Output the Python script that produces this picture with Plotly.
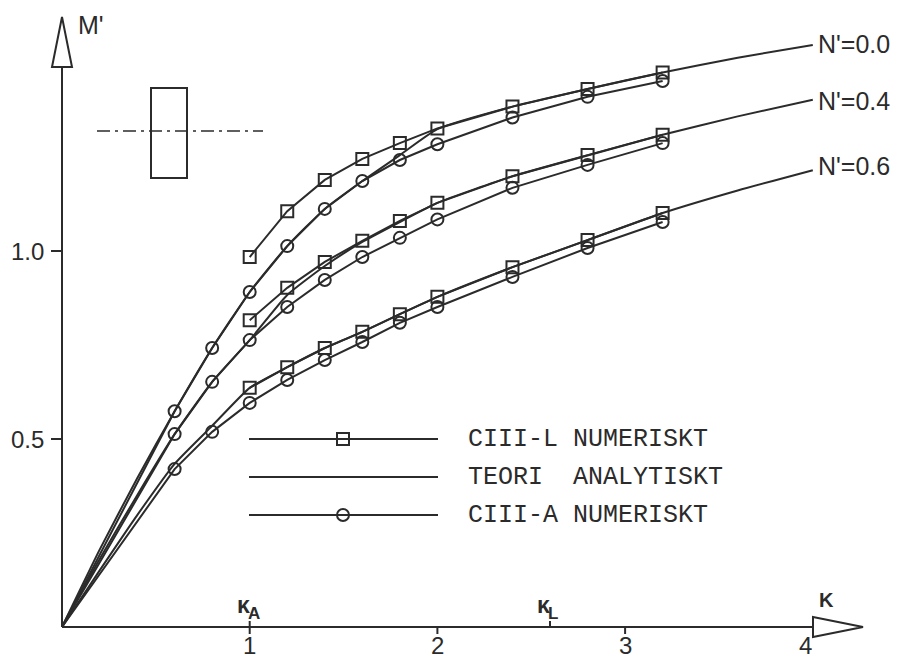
import plotly.graph_objects as go

# ---------------- data ----------------
N_labels = ["N'=0.0", "N'=0.4", "N'=0.6"]

# CIII-L numeriskt (squares)
x_L = [1.0, 1.2, 1.4, 1.6, 1.8, 2.0, 2.4, 2.8, 3.2]
L_00 = [0.984, 1.106, 1.189, 1.245, 1.287, 1.326, 1.384, 1.431, 1.475]
L_04 = [0.816, 0.902, 0.971, 1.027, 1.080, 1.128, 1.199, 1.255, 1.309]
L_06 = [0.636, 0.691, 0.742, 0.785, 0.832, 0.878, 0.957, 1.029, 1.101]

# CIII-A numeriskt (circles)
x_A = [0.0, 0.6, 0.8, 1.0, 1.2, 1.4, 1.6, 1.8, 2.0, 2.4, 2.8, 3.2]
A_00 = [0.0, 0.574, 0.742, 0.891, 1.013, 1.112, 1.186, 1.242, 1.284, 1.355, 1.410, 1.452]
A_04 = [0.0, 0.513, 0.652, 0.763, 0.851, 0.923, 0.984, 1.035, 1.084, 1.168, 1.229, 1.287]
A_06 = [0.0, 0.420, 0.519, 0.596, 0.657, 0.710, 0.758, 0.809, 0.851, 0.931, 1.008, 1.077]

# Teori analytiskt (plain lines)
x_T = [0.0, 0.2, 0.4, 0.6, 0.8, 1.0, 1.2, 1.4, 1.6, 1.8, 2.0, 2.4, 2.8, 3.2, 3.6, 4.0]
T_00 = [0.0, 0.205, 0.395, 0.574, 0.742, 0.891, 1.013, 1.112, 1.186, 1.255, 1.324, 1.384, 1.431, 1.475, 1.514, 1.548]
T_04 = [0.0, 0.180, 0.350, 0.513, 0.652, 0.763, 0.883, 0.960, 1.024, 1.077, 1.128, 1.199, 1.255, 1.309, 1.358, 1.402]
T_06 = [0.0, 0.150, 0.297, 0.434, 0.535, 0.636, 0.691, 0.742, 0.785, 0.832, 0.878, 0.957, 1.029, 1.101, 1.161, 1.215]

x_ticks = [1, 2, 3, 4]
x_tick_labels = ["1", "2", "3", "4"]
y_ticks = [0.5, 1.0]
y_tick_labels = ["0.5", "1.0"]
kappa_A = 1.0
kappa_L = 2.60
kappa_subs = ["A", "L"]

legend_names = ["CIII-L NUMERISKT", "TEORI\u00a0\u00a0ANALYTISKT", "CIII-A NUMERISKT"]

# ---------------- geometry helpers ----------------
W, H = 902, 661
OX, OY = 62.0, 627.0      # pixel position of origin
SX, SY = 187.7, 376.0     # pixels per unit


def X(px):
    return (px - OX) / SX


def Y(py):
    return (OY - py) / SY


INK = "#2b2b2b"
LW = 2
FONT_SANS = "Liberation Sans, Arial, sans-serif"
FONT_MONO = "Liberation Mono, Courier New, monospace"

fig = go.Figure()

# theory curves
for ys in (T_00, T_04, T_06):
    fig.add_trace(go.Scatter(x=x_T, y=ys, mode="lines",
                             line=dict(color=INK, width=LW, shape="spline", smoothing=0.5),
                             hoverinfo="skip", showlegend=False))

# CIII-A (circles)
for ys in (A_00, A_04, A_06):
    fig.add_trace(go.Scatter(x=x_A, y=ys, mode="lines",
                             line=dict(color=INK, width=LW),
                             hoverinfo="skip", showlegend=False))
    fig.add_trace(go.Scatter(x=x_A[1:], y=ys[1:], mode="markers",
                             marker=dict(symbol="circle-open", size=12, color=INK,
                                         line=dict(color=INK, width=2)),
                             hoverinfo="skip", showlegend=False))

# CIII-L (squares)
for ys in (L_00, L_04, L_06):
    fig.add_trace(go.Scatter(x=x_L, y=ys, mode="lines+markers",
                             line=dict(color=INK, width=LW),
                             marker=dict(symbol="square-open", size=12, color=INK,
                                         line=dict(color=INK, width=2)),
                             hoverinfo="skip", showlegend=False))

# legend drawn by hand
leg_y_px = [439, 477, 515]
leg_x0, leg_x1, leg_mark = 249, 438, 343
leg_symbols = ["square-open", None, "circle-open"]
for py, sym, name in zip(leg_y_px, leg_symbols, legend_names):
    fig.add_trace(go.Scatter(x=[X(leg_x0), X(leg_x1)], y=[Y(py), Y(py)], mode="lines",
                             line=dict(color=INK, width=LW), hoverinfo="skip", showlegend=False))
    if sym:
        fig.add_trace(go.Scatter(x=[X(leg_mark)], y=[Y(py)], mode="markers",
                                 marker=dict(symbol=sym, size=12, color=INK,
                                             line=dict(color=INK, width=2)),
                                 hoverinfo="skip", showlegend=False))
    fig.add_annotation(x=X(466), y=Y(py), text=name, showarrow=False,
                       xanchor="left", yanchor="middle",
                       font=dict(family=FONT_MONO, size=25, color=INK))

shapes = []
# y axis + arrow
shapes.append(dict(type="line", x0=0, y0=0, x1=0, y1=Y(67), line=dict(color=INK, width=LW)))
shapes.append(dict(type="path",
                   path=f"M {X(52)},{Y(67)} L {X(62)},{Y(17)} L {X(72)},{Y(67)} Z",
                   line=dict(color=INK, width=LW), fillcolor="white"))
# x axis + arrow
shapes.append(dict(type="line", x0=0, y0=0, x1=X(813), y1=0, line=dict(color=INK, width=LW)))
shapes.append(dict(type="path",
                   path=f"M {X(813)},{Y(617)} L {X(863)},{Y(627)} L {X(813)},{Y(637)} Z",
                   line=dict(color=INK, width=LW), fillcolor="white"))
# x ticks (below axis) and kappa ticks (above axis)
for t in x_ticks[:-1]:
    shapes.append(dict(type="line", x0=t, x1=t, y0=0, y1=Y(634), line=dict(color=INK, width=LW)))
for t in (kappa_A, kappa_L):
    shapes.append(dict(type="line", x0=t, x1=t, y0=0, y1=Y(621), line=dict(color=INK, width=LW)))
# y ticks
for t in y_ticks:
    shapes.append(dict(type="line", x0=X(51), x1=0, y0=t, y1=t, line=dict(color=INK, width=LW)))
# symbol in top-left: rectangle + dash-dot line
shapes.append(dict(type="rect", x0=X(151), x1=X(187), y0=Y(88), y1=Y(178),
                   line=dict(color=INK, width=LW)))
shapes.append(dict(type="line", x0=X(97), x1=X(263), y0=Y(131), y1=Y(131),
                   line=dict(color=INK, width=1.6, dash="13px,5px,3px,5px")))

# tick labels
x_shift = [0, 0, 0, -7]
for t, lab, sh in zip(x_ticks, x_tick_labels, x_shift):
    fig.add_annotation(x=t, y=Y(645), text=lab, showarrow=False, xanchor="center", yanchor="middle",
                       xshift=sh, font=dict(family=FONT_SANS, size=24, color=INK))
for t, lab in zip(y_ticks, y_tick_labels):
    fig.add_annotation(x=X(46), y=t, text=lab, showarrow=False, xanchor="right", yanchor="middle",
                       font=dict(family=FONT_SANS, size=24, color=INK))

# axis titles
fig.add_annotation(x=X(76), y=Y(25), text="M'", showarrow=False, xanchor="left", yanchor="middle",
                   font=dict(family=FONT_SANS, size=25, color=INK))
fig.add_annotation(x=X(826), y=Y(600), text="<b>K</b>", showarrow=False, xanchor="center",
                   yanchor="middle", font=dict(family=FONT_SANS, size=20, color=INK))

# kappa labels (kappa + subscript letter as separate texts)
for k, sub in zip((kappa_A, kappa_L), kappa_subs):
    fig.add_annotation(x=k, y=Y(605), text="<b>κ</b>", showarrow=False, xanchor="right",
                       yanchor="middle", xshift=1, borderpad=0,
                       font=dict(family=FONT_SANS, size=23, color=INK))
    fig.add_annotation(x=k, y=Y(613), text="<b>" + sub + "</b>", showarrow=False, xanchor="left",
                       yanchor="middle", xshift=-3, borderpad=0,
                       font=dict(family=FONT_SANS, size=17, color=INK))

# curve labels
for lab, py in zip(N_labels, (44, 101, 166)):
    fig.add_annotation(x=X(816), y=Y(py), text=lab, showarrow=False, xanchor="left",
                       yanchor="middle", font=dict(family=FONT_SANS, size=25, color=INK))

fig.update_layout(
    width=W, height=H,
    margin=dict(l=0, r=0, t=0, b=0, autoexpand=False),
    paper_bgcolor="white", plot_bgcolor="white",
    xaxis=dict(range=[X(0), X(W)], visible=False, fixedrange=True),
    yaxis=dict(range=[Y(H), Y(0)], visible=False, fixedrange=True),
    shapes=shapes,
    showlegend=False,
)

fig.write_html("out.html")
